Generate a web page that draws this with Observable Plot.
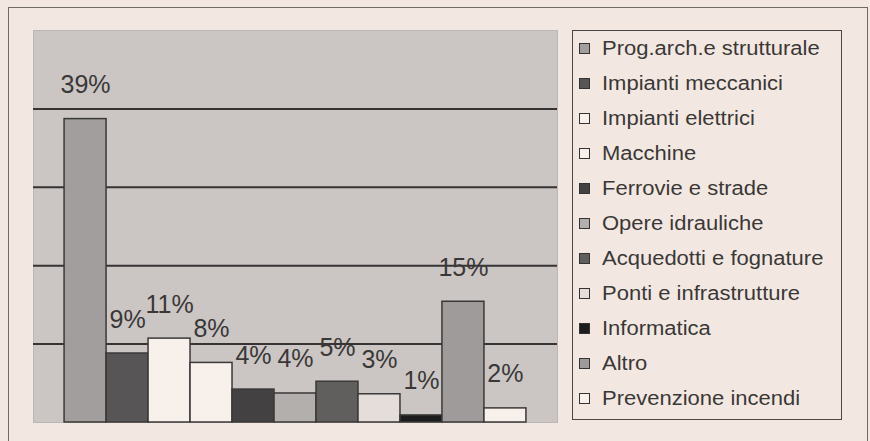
<!DOCTYPE html>
<html>
<head>
<meta charset="utf-8">
<script src="https://cdn.jsdelivr.net/npm/d3@7"></script>
<script src="https://cdn.jsdelivr.net/npm/@observablehq/plot@0.6"></script>
<style>
  html, body { margin: 0; padding: 0; background: #f3e8e1; }
  #wrap { position: relative; width: 870px; height: 441px; background: #f3e8e1; overflow: hidden;
          font-family: "Liberation Sans", Arial, sans-serif; }
  #border { position: absolute; left: 8px; top: 7px; width: 858px; height: 440px;
            border-left: 1.5px solid #6e6a68; border-top: 1.5px solid #6e6a68; border-right: 1.5px solid #6e6a68; }
  #chart { position: absolute; left: 0; top: 0; }
  #legend { position: absolute; left: 572px; top: 30px; width: 270px; height: 390px;
            border: 1.5px solid #4a4746; box-sizing: border-box; }
  .row { height: 35px; display: flex; align-items: center; padding-left: 6px; font-size: 20px; color: #3a3837; white-space: nowrap; }
  .sw { width: 9px; height: 9px; border: 1px solid #333; margin-right: 12px; flex: none; }
  .tx { display: inline-block; transform: scaleX(1.1); transform-origin: left center; }
</style>
</head>
<body>
<div id="wrap">
  <div id="border"></div>
  <div id="chart"></div>
  <div id="legend"></div>
</div>
<script>
const categories = [
  "Prog.arch.e strutturale",
  "Impianti meccanici",
  "Impianti elettrici",
  "Macchine",
  "Ferrovie e strade",
  "Opere idrauliche",
  "Acquedotti e fognature",
  "Ponti e infrastrutture",
  "Informatica",
  "Altro",
  "Prevenzione incendi"
];
const values = [38.7, 8.8, 10.7, 7.6, 4.2, 3.7, 5.2, 3.6, 0.9, 15.4, 1.8];
const labels = ["39%", "9%", "11%", "8%", "4%", "4%", "5%", "3%", "1%", "15%", "2%"];
const palette = ["#a29e9d", "#575555", "#f8f0eb", "#f8f0eb", "#434141", "#b3afad",
                 "#615e5e", "#e4ddd9", "#1e1d1d", "#9f9b9a", "#f8f0eb"];
const gridValues = [10, 20, 30, 40];

const data = categories.map((c, i) => ({cat: c, value: values[i], label: labels[i]}));

const chart = Plot.plot({
  width: 870,
  height: 441,
  marginLeft: 33,
  marginRight: 313,
  marginTop: 30,
  marginBottom: 19,
  style: {background: "transparent", fontFamily: "'Liberation Sans', Arial, sans-serif"},
  x: {type: "band", domain: categories, paddingInner: 0, paddingOuter: 0.74, round: false, axis: null},
  y: {domain: [0, 50], axis: null},
  color: {domain: categories, range: palette},
  marks: [
    Plot.frame({fill: "#cbc6c4", stroke: "#bcb7b5"}),
    Plot.ruleY(gridValues, {stroke: "#353333", strokeWidth: 2}),
    Plot.barY(data, {x: "cat", y: "value", fill: "cat", stroke: "#3a3838", strokeWidth: 1.5}),
    Plot.text(data, {x: "cat", y: "value", text: "label", dy: -34, fontSize: 25, fill: "#3a3837", textAnchor: "middle"})
  ]
});
document.getElementById("chart").appendChild(chart);

const legend = document.getElementById("legend");
categories.forEach((c, i) => {
  const row = document.createElement("div");
  row.className = "row";
  const sw = document.createElement("span");
  sw.className = "sw";
  sw.style.background = palette[i];
  row.appendChild(sw);
  const tx = document.createElement("span");
  tx.className = "tx";
  tx.textContent = c;
  row.appendChild(tx);
  legend.appendChild(row);
});
</script>
</body>
</html>
